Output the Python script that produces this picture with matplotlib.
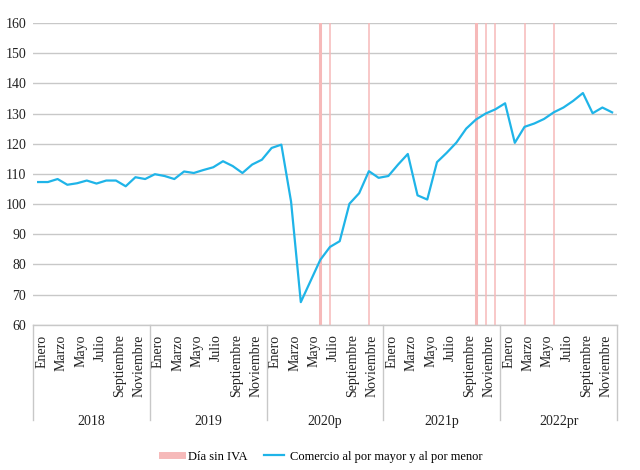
import numpy as np
import matplotlib
matplotlib.use('Agg')
import matplotlib.pyplot as plt
import matplotlib.transforms as mtransforms
from matplotlib.lines import Line2D

plt.rcParams['font.family'] = ['Liberation Serif', 'DejaVu Serif']

years = ['2018', '2019', '2020p', '2021p', '2022pr']
months = ['Enero', 'Febrero', 'Marzo', 'Abril', 'Mayo', 'Junio', 'Julio',
          'Agosto', 'Septiembre', 'Octubre', 'Noviembre', 'Diciembre']

comercio = [107.3, 107.3, 108.3, 106.4, 106.9, 107.8, 106.8, 107.8, 107.8, 105.9, 108.9, 108.3,
            109.9, 109.3, 108.3, 110.8, 110.3, 111.3, 112.2, 114.2, 112.6, 110.3, 113.1, 114.7,
            118.6, 119.7, 100.8, 67.5, 74.5, 81.5, 85.8, 87.7, 100.1, 103.6, 110.9, 108.7,
            109.3, 113.1, 116.6, 102.9, 101.5, 113.9, 117.0, 120.4, 125.0, 128.0, 130.0, 131.4,
            133.4, 120.3, 125.6, 126.7, 128.2, 130.4, 132.0, 134.2, 136.8, 130.1, 132.0, 130.4]

# months (index from Jan 2018) with a "Día sin IVA", and how many that month
dia_sin_iva = [29, 30, 34, 45, 46, 47, 50, 53]
dia_peso = [2, 1, 1, 2, 1, 1, 1, 1]

azul = '#1fb4e8'
rosa = '#f6b9b9'
fs = 10

fig = plt.figure(figsize=(6.4, 4.7), dpi=100)
ax = fig.add_axes([0.052, 0.309, 0.912, 0.642])

x = np.arange(len(comercio))
for m, w in zip(dia_sin_iva, dia_peso):
    ax.axvline(m, color=rosa, lw=1.1 * w, zorder=1)
ax.plot(x, comercio, color=azul, lw=1.6, zorder=3)

ax.set_xlim(-0.5, len(comercio) - 0.5)
ax.set_ylim(60, 160)
ax.set_yticks(np.arange(60, 161, 10))
ax.grid(axis='y', color='#c8c8c8', lw=1)
ax.set_axisbelow(True)
for s in ['top', 'right', 'left']:
    ax.spines[s].set_visible(False)
ax.spines['bottom'].set_color('#c8c8c8')
ax.spines['bottom'].set_linewidth(1)

ticks = [i for i in x if i % 2 == 0]
ax.set_xticks(ticks)
ax.set_xticklabels([months[i % 12] for i in ticks], rotation=90, fontsize=fs)
ax.tick_params(axis='both', length=0, labelsize=fs, colors='#222222')
ax.tick_params(axis='x', pad=7)
ax.tick_params(axis='y', pad=5)
# labels sit a little right of the month centre, as in the original
shift = mtransforms.ScaledTranslation(3.5 / 100, 0, fig.dpi_scale_trans)
for lab in ax.get_xticklabels():
    lab.set_transform(lab.get_transform() + shift)

# year separators and year labels under the month labels
tr = ax.get_xaxis_transform()
for k in range(len(years) + 1):
    ax.plot([12 * k - 0.5, 12 * k - 0.5], [0, -0.315], color='#c8c8c8', lw=1,
            transform=tr, clip_on=False)
for k, yname in enumerate(years):
    ax.text(12 * k + 5.5, -0.322, yname, transform=tr, ha='center', va='center',
            fontsize=fs, color='#222222')

handles = [Line2D([0], [0], color=rosa, lw=5),
           Line2D([0], [0], color=azul, lw=1.6)]
fig.legend(handles, ['Día sin IVA', 'Comercio al por mayor y al por menor'],
           loc='center', bbox_to_anchor=(0.503, 0.028), ncol=2, frameon=False,
           fontsize=9, handlelength=1.6, handletextpad=0.5, columnspacing=1.3)

fig.savefig('out.png', dpi=100)
